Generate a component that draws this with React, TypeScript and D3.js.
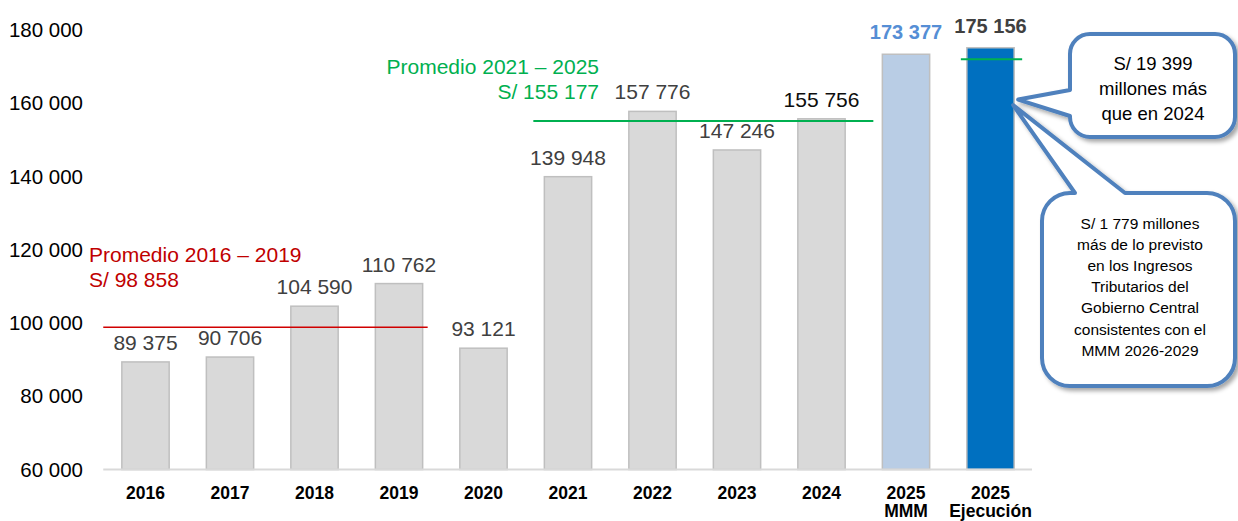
import * as d3 from 'd3';

// Ingresos tributarios del Gobierno Central (millones de S/)
const categories = ['2016', '2017', '2018', '2019', '2020', '2021', '2022', '2023', '2024', '2025\nMMM', '2025\nEjecución'];
const values = [89375, 90706, 104590, 110762, 93121, 139948, 157776, 147246, 155756, 173377, 175156];
const kinds = ['hist', 'hist', 'hist', 'hist', 'hist', 'hist', 'hist', 'hist', 'last', 'mmm', 'ejec'];

const yTicks = [60000, 80000, 100000, 120000, 140000, 160000, 180000];

const promedioA = { from: '2016', to: '2019', value: 98858, label: 'Promedio 2016 – 2019' };
const promedioB = { from: '2021', to: '2024', value: 155177, label: 'Promedio 2021 – 2025' };
const marcaEjecucion = 172000;

const nota1 = ['S/ 19 399', 'millones más', 'que en 2024'];
const nota2 = [
  'S/ 1 779 millones',
  'más de lo previsto',
  'en los Ingresos',
  'Tributarios del',
  'Gobierno Central',
  'consistentes con el',
  'MMM 2026-2029',
];

const W = 1238;
const H = 521;
const FONT = '"Liberation Sans", Arial, sans-serif';

const fmt = d3.formatLocale({ decimal: ',', thousands: ' ', grouping: [3], currency: ['', ''] }).format(',');

const BAR_FILL: Record<string, string> = { hist: '#d9d9d9', last: '#d9d9d9', mmm: '#b9cde5', ejec: '#0070c0' };
const LABEL_FILL: Record<string, string> = { hist: '#404040', last: '#0d0d0d', mmm: '#558ed5', ejec: '#404040' };

// rounded box with a wedge on the left side
function calloutLeft(x0, y0, x1, y1, r, wTop, wBot, tx, ty) {
  return [
    `M${x0 + r},${y0}`, `H${x1 - r}`, `A${r},${r} 0 0 1 ${x1},${y0 + r}`,
    `V${y1 - r}`, `A${r},${r} 0 0 1 ${x1 - r},${y1}`,
    `H${x0 + r}`, `A${r},${r} 0 0 1 ${x0},${y1 - r}`,
    `V${wBot}`, `L${tx},${ty}`, `L${x0},${wTop}`,
    `V${y0 + r}`, `A${r},${r} 0 0 1 ${x0 + r},${y0}`, 'Z',
  ].join(' ');
}

// rounded box with a wedge on the top side
function calloutTop(x0, y0, x1, y1, r, wLeft, wRight, tx, ty) {
  return [
    `M${x0 + r},${y0}`, `H${wLeft}`, `L${tx},${ty}`, `L${wRight},${y0}`,
    `H${x1 - r}`, `A${r},${r} 0 0 1 ${x1},${y0 + r}`,
    `V${y1 - r}`, `A${r},${r} 0 0 1 ${x1 - r},${y1}`,
    `H${x0 + r}`, `A${r},${r} 0 0 1 ${x0},${y1 - r}`,
    `V${y0 + r}`, `A${r},${r} 0 0 1 ${x0 + r},${y0}`, 'Z',
  ].join(' ');
}

export default function App() {
  const x = d3.scaleBand<string>().domain(categories).range([103.25, 1032.75]).paddingInner(0.44).paddingOuter(0.22);
  const y = d3.scaleLinear().domain([60000, 180000]).range([469.5, 30]);
  const bw = x.bandwidth();

  const yA = y(promedioA.value);
  const yB = y(promedioB.value);
  const ejec = categories[10];
  const ejecRight = (x(ejec) as number) + bw;

  return (
    <svg width={W} height={H} style={{ position: 'absolute', left: 0, top: 0, fontFamily: FONT }}>
      <defs>
        <filter id="sombra" x="-10%" y="-10%" width="130%" height="130%">
          <feDropShadow dx="3" dy="3" stdDeviation="2" floodColor="#000" floodOpacity="0.35" />
        </filter>
      </defs>

      {/* eje Y */}
      {yTicks.map((t) => (
        <text key={t} x={83} y={y(t)} dy="0.35em" textAnchor="end" fontSize={20.5} fill="#000">
          {fmt(t)}
        </text>
      ))}

      {/* barras */}
      {categories.map((c, i) => (
        <rect
          key={c}
          x={x(c)}
          y={y(values[i])}
          width={bw}
          height={y(60000) - y(values[i])}
          fill={BAR_FILL[kinds[i]]}
          stroke="#bfbfbf"
          strokeWidth={1.5}
        />
      ))}

      {/* eje X */}
      <line x1={103.25} x2={1032} y1={y(60000)} y2={y(60000)} stroke="#d9d9d9" strokeWidth={2} />
      {categories.map((c) =>
        c.split('\n').map((line, k) => (
          <text
            key={c + k}
            x={(x(c) as number) + bw / 2}
            y={498.5 + k * 18.5}
            textAnchor="middle"
            fontSize={17.5}
            fontWeight="bold"
            fill="#000"
          >
            {line}
          </text>
        ))
      )}

      {/* etiquetas de valores */}
      {categories.map((c, i) => {
        const bold = kinds[i] === 'mmm' || kinds[i] === 'ejec';
        return (
          <text
            key={c}
            x={(x(c) as number) + bw / 2}
            y={y(values[i]) - (bold ? 15 : 12)}
            textAnchor="middle"
            fontSize={bold ? 20 : 21}
            fontWeight={bold ? 'bold' : 'normal'}
            fill={LABEL_FILL[kinds[i]]}
          >
            {fmt(values[i])}
          </text>
        );
      })}

      {/* promedio 2016-2019 */}
      <line x1={103.25} x2={(x(promedioA.to) as number) + bw + 5} y1={yA} y2={yA} stroke="#d00000" strokeWidth={1.5} />
      <text x={89} y={yA - 65} fontSize={21} fill="#c00000">{promedioA.label}</text>
      <text x={89} y={yA - 40} fontSize={21} fill="#c00000">{'S/ ' + fmt(promedioA.value)}</text>

      {/* promedio 2021-2025 */}
      <line x1={(x(promedioB.from) as number) - 11} x2={(x(categories[9]) as number) - 9} y1={yB} y2={yB} stroke="#00b050" strokeWidth={2} />
      <text x={599} y={yB - 47} textAnchor="end" fontSize={21} fill="#00b050">{promedioB.label}</text>
      <text x={599} y={yB - 22} textAnchor="end" fontSize={21} fill="#00b050">{'S/ ' + fmt(promedioB.value)}</text>

      {/* marca sobre la barra de ejecución */}
      <line x1={(x(ejec) as number) - 6} x2={ejecRight + 8} y1={y(marcaEjecucion)} y2={y(marcaEjecucion)} stroke="#00b050" strokeWidth={2} />

      {/* nota 2 */}
      <path
        d={calloutTop(1042, 193, 1235, 386, 28, 1075, 1125, ejecRight - 1, y(159500))}
        fill="#fff"
        stroke="#4f81bd"
        strokeWidth={4}
        strokeLinejoin="round"
        filter="url(#sombra)"
      />
      {nota2.map((t, k) => (
        <text key={t} x={1140} y={228.5 + k * 21.2} textAnchor="middle" fontSize={15.5} fill="#000">{t}</text>
      ))}

      {/* nota 1 */}
      <path
        d={calloutLeft(1070, 34, 1235, 137, 20, 90, 116, ejecRight + 4, y(161000))}
        fill="#fff"
        stroke="#4f81bd"
        strokeWidth={4}
        strokeLinejoin="round"
        filter="url(#sombra)"
      />
      {nota1.map((t, k) => (
        <text key={t} x={1153} y={70 + k * 25} textAnchor="middle" fontSize={18.5} fill="#000">{t}</text>
      ))}
    </svg>
  );
}
